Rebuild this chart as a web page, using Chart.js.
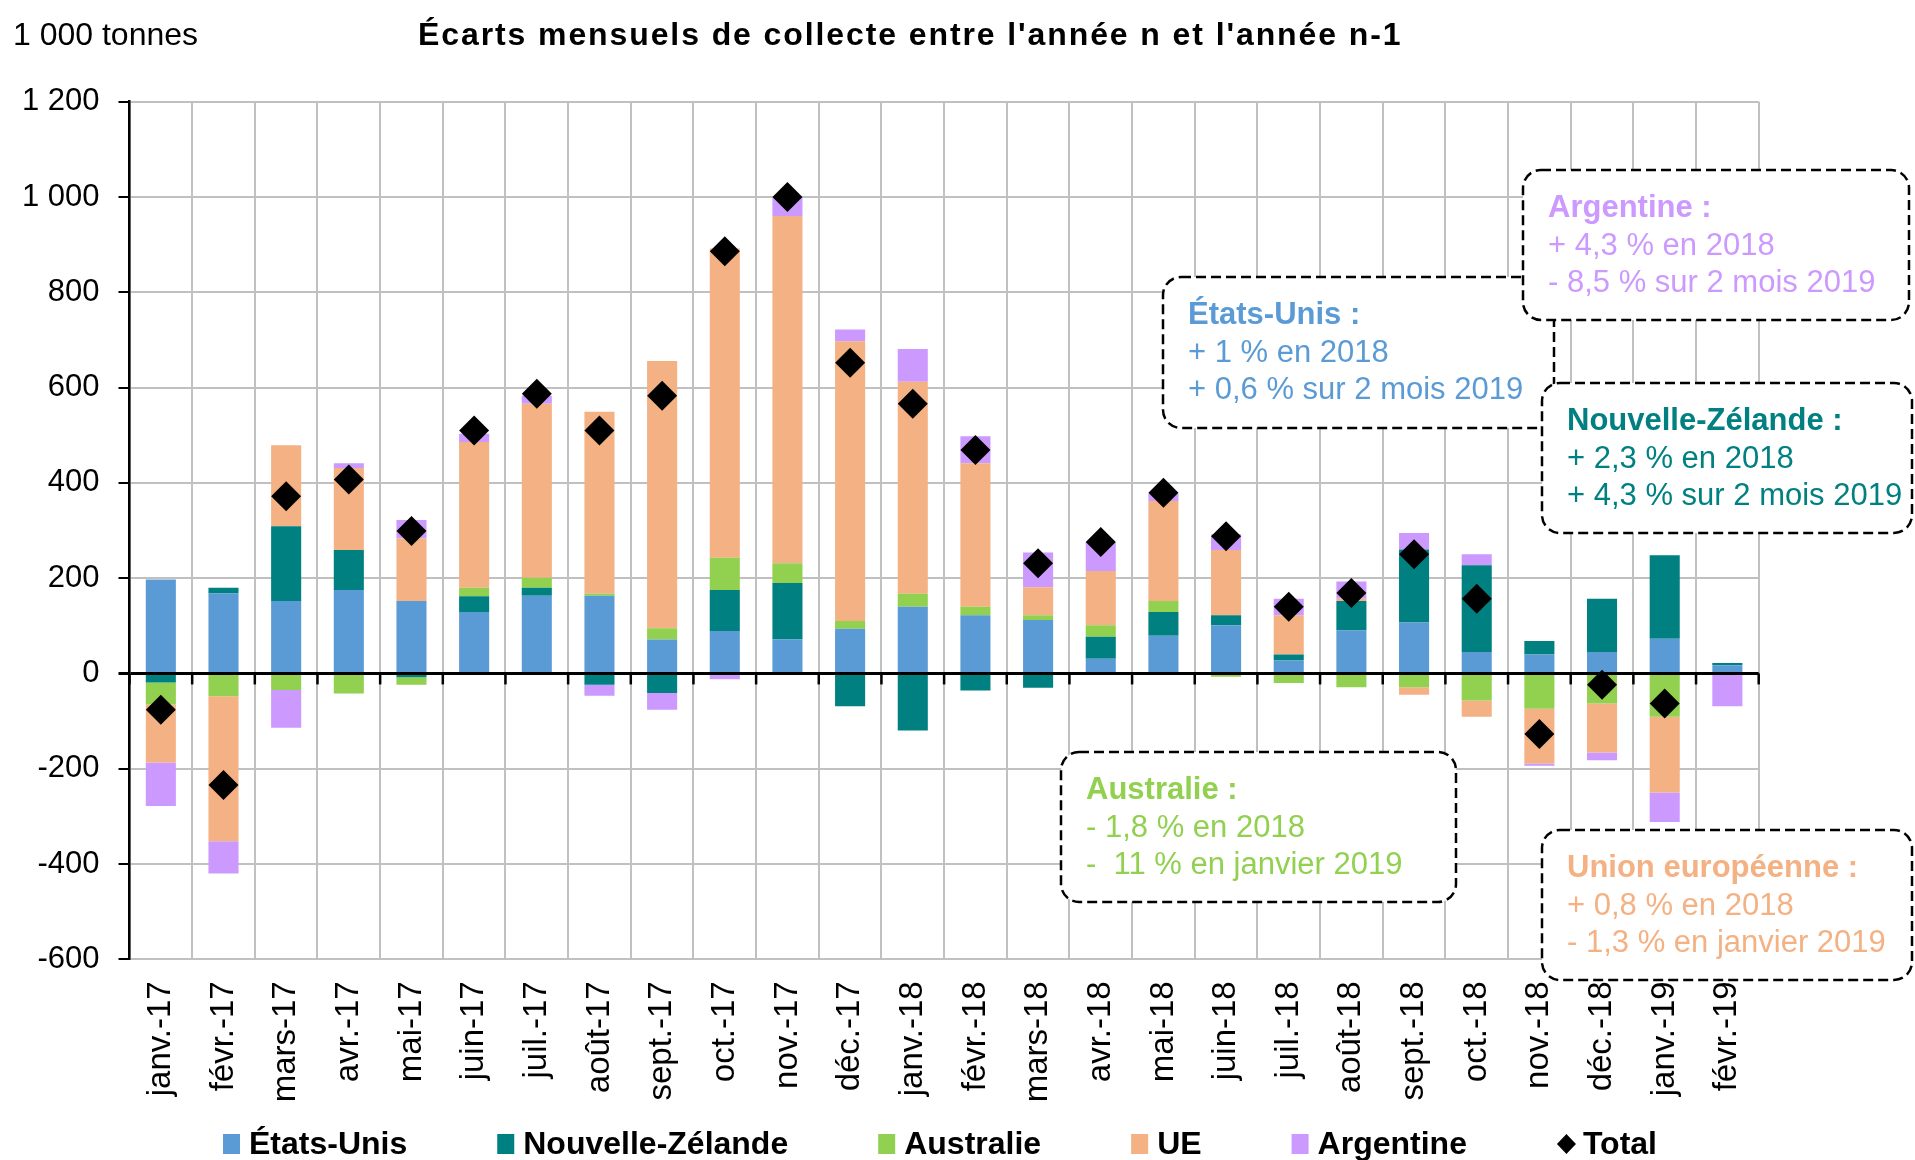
<!DOCTYPE html>
<html lang="fr">
<head>
<meta charset="utf-8">
<title>Écarts mensuels de collecte</title>
<script src="https://cdn.jsdelivr.net/npm/chart.js@4.4.0/dist/chart.umd.min.js"></script>
<style>
    html, body { margin: 0; padding: 0; background: #fff; overflow: hidden; }
</style>
</head>
<body>
<canvas id="myChart" width="1915" height="1160"></canvas>
<script>
// mois (axe des x)
const mois = ['janv.-17', 'févr.-17', 'mars-17', 'avr.-17', 'mai-17', 'juin-17', 'juil.-17', 'août-17', 'sept.-17', 'oct.-17', 'nov.-17', 'déc.-17',
    'janv.-18', 'févr.-18', 'mars-18', 'avr.-18', 'mai-18', 'juin-18', 'juil.-18', 'août-18', 'sept.-18', 'oct.-18', 'nov.-18', 'déc.-18',
    'janv.-19', 'févr.-19'];

// écarts en 1 000 tonnes
const etatsUnis = [197, 168, 152, 175, 152, 129, 163, 163, 71, 89, 72, 94, 140, 122, 112, 31, 79, 101, 27, 90, 107, 45, 40, 45, 73, 17];
const nouvelleZelande = [-19, 12, 157, 84, -8, 33, 17, -24, -41, 86, 118, -69, -120, -36, -30, 46, 50, 21, 13, 62, 153, 182, 28, 112, 175, 5];
const australie = [-46, -48, -35, -42, -16, 18, 21, 4, 24, 68, 41, 16, 27, 18, 10, 24, 23, -7, -20, -29, -29, -57, -74, -63, -91, 0];
const ue = [-122, -304, 170, 172, 131, 306, 365, 382, 561, 649, 729, 587, 445, 301, 59, 114, 210, 137, 82, 5, -16, -34, -115, -103, -159, 0];
const argentine = [-91, -68, -79, 10, 39, 17, 17, -23, -35, -12, 39, 25, 69, 57, 73, 61, 16, 33, 35, 36, 35, 23, -5, -16, -62, -69];
const total = [-76, -234, 372, 407, 299, 510, 587, 510, 583, 886, 1000, 652, 566, 469, 231, 276, 379, 288, 140, 169, 250, 157, -127, -24, -63, null];

const yTicks = [-600, -400, -200, 0, 200, 400, 600, 800, 1000, 1200];

const police = '"Liberation Sans", Arial, sans-serif';
Chart.defaults.font.family = police;

// encadrés de commentaires
const notes = [
    { titre: 'États-Unis :', lignes: ['+ 1 % en 2018', '+ 0,6 % sur 2 mois 2019'], couleur: '#5B9BD5', x: 1163, y: 277, w: 391, h: 151 },
    { titre: 'Argentine :', lignes: ['+ 4,3 % en 2018', '- 8,5 % sur 2 mois 2019'], couleur: '#CC99FF', x: 1523, y: 170, w: 386, h: 150 },
    { titre: 'Nouvelle-Zélande :', lignes: ['+ 2,3 % en 2018', '+ 4,3 % sur 2 mois 2019'], couleur: '#008080', x: 1542, y: 383, w: 370, h: 150 },
    { titre: 'Australie :', lignes: ['- 1,8 % en 2018', '-  11 % en janvier 2019'], couleur: '#92D050', x: 1061, y: 752, w: 395, h: 150 },
    { titre: 'Union européenne :', lignes: ['+ 0,8 % en 2018', '- 1,3 % en janvier 2019'], couleur: '#F4B183', x: 1542, y: 830, w: 370, h: 150 }
];

const decor = {
    id: 'decor',
    beforeDatasetsDraw(chart) {
        const ctx = chart.ctx;
        const xs = chart.scales.x;
        const y0 = chart.scales.y.getPixelForValue(0);
        ctx.save();
        // petites graduations sous l'axe du zéro
        ctx.strokeStyle = '#000';
        ctx.lineWidth = 2.5;
        for (let i = 0; i <= mois.length; i++) {
            const px = xs.getPixelForValue(i - 0.5);
            ctx.beginPath();
            ctx.moveTo(px, y0);
            ctx.lineTo(px, y0 + 11);
            ctx.stroke();
        }
        notes.forEach(n => {
            ctx.beginPath();
            ctx.roundRect(n.x, n.y, n.w, n.h, 18);
            ctx.fillStyle = '#fff';
            ctx.fill();
            ctx.setLineDash([10, 5]);
            ctx.lineWidth = 2.5;
            ctx.strokeStyle = '#000';
            ctx.stroke();
            ctx.setLineDash([]);
            ctx.fillStyle = n.couleur;
            ctx.textAlign = 'left';
            ctx.textBaseline = 'alphabetic';
            ctx.font = 'bold 31px ' + police;
            ctx.fillText(n.titre, n.x + 25, n.y + 47);
            ctx.font = '31px ' + police;
            n.lignes.forEach((l, k) => ctx.fillText(l, n.x + 25, n.y + 47 + 37.5 * (k + 1)));
        });
        ctx.restore();
    },
    afterDraw(chart) {
        const ctx = chart.ctx;
        ctx.save();
        ctx.fillStyle = '#000';
        ctx.textAlign = 'left';
        ctx.textBaseline = 'alphabetic';
        ctx.font = '32px ' + police;
        ctx.fillText('1 000 tonnes', 13, 45);
        ctx.font = 'bold 32px ' + police;
        ctx.letterSpacing = '1.9px';
        ctx.fillText("Écarts mensuels de collecte entre l'année n et l'année n-1", 418, 45);
        ctx.letterSpacing = '0px';

        // légende en bas
        let lx = 223;
        const ly = 1144;
        ctx.font = 'bold 32px ' + police;
        ctx.textBaseline = 'middle';
        chart.data.datasets.forEach(ds => {
            ctx.fillStyle = ds.backgroundColor;
            if (ds.type === 'line') {
                ctx.beginPath();
                ctx.moveTo(lx + 9.5, ly - 10);
                ctx.lineTo(lx + 19, ly);
                ctx.lineTo(lx + 9.5, ly + 10);
                ctx.lineTo(lx, ly);
                ctx.closePath();
                ctx.fill();
            } else {
                ctx.fillRect(lx, ly - 10, 17, 20);
            }
            ctx.fillStyle = '#000';
            ctx.fillText(ds.label, lx + 26, ly + 1);
            lx += 26 + ctx.measureText(ds.label).width + 90;
        });
        ctx.restore();
    }
};

const ctx = document.getElementById('myChart').getContext('2d');
const myChart = new Chart(ctx, {
    type: 'bar',
    data: {
        labels: mois,
        datasets: [
            { label: 'États-Unis', data: etatsUnis, backgroundColor: '#5B9BD5' },
            { label: 'Nouvelle-Zélande', data: nouvelleZelande, backgroundColor: '#008080' },
            { label: 'Australie', data: australie, backgroundColor: '#92D050' },
            { label: 'UE', data: ue, backgroundColor: '#F4B183' },
            { label: 'Argentine', data: argentine, backgroundColor: '#CC99FF' },
            {
                type: 'line', label: 'Total', data: total, stack: 'total', order: -1,
                showLine: false, pointStyle: 'rectRot', pointRadius: 15, pointHoverRadius: 15,
                backgroundColor: '#000', borderColor: '#000', pointBorderWidth: 0
            }
        ]
    },
    options: {
        responsive: false,
        animation: false,
        layout: { padding: { left: 0, right: 156.3, top: 101.7, bottom: 0 } },
        datasets: { bar: { barPercentage: 0.48, categoryPercentage: 1, borderWidth: 0 } },
        scales: {
            x: {
                stacked: true,
                grid: { color: '#C0C0C0', lineWidth: 2, offset: true, drawTicks: false },
                border: { color: '#C0C0C0', width: 2 },
                ticks: { color: '#000', font: { size: 33 }, maxRotation: 90, minRotation: 90, padding: 22, autoSkip: false },
                afterFit(scale) { scale.height = 200.7; }
            },
            y: {
                stacked: true,
                min: -600,
                max: 1200,
                afterBuildTicks(scale) { scale.ticks = yTicks.map(v => ({ value: v })); },
                ticks: {
                    color: '#000', font: { size: 31 }, padding: 19,
                    callback: v => Math.abs(v) >= 1000 ? Math.floor(v / 1000) + ' ' + String(v % 1000).padStart(3, '0') : String(v)
                },
                grid: {
                    color: c => (c.tick && c.tick.value === 0) ? '#000' : '#C0C0C0',
                    lineWidth: c => (c.tick && c.tick.value === 0) ? 3 : 2,
                    tickColor: '#000', tickLength: 11
                },
                border: { color: '#000', width: 2.5 },
                afterFit(scale) { scale.width = 129.5; }
            }
        },
        plugins: {
            legend: { display: false },
            tooltip: { enabled: false }
        }
    },
    plugins: [decor]
});
</script>
</body>
</html>
